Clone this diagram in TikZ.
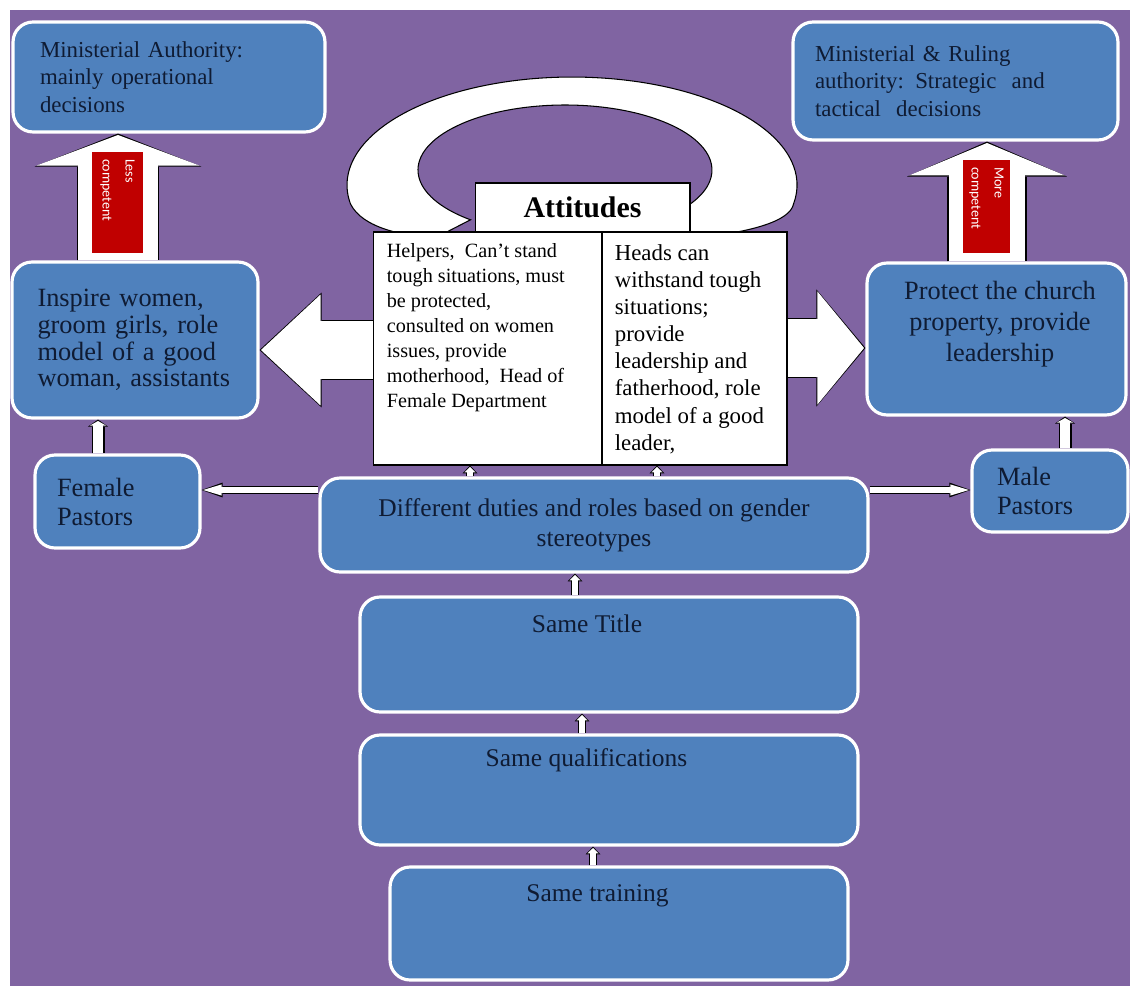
\documentclass[tikz,border=0pt]{standalone}
\usepackage{fontspec}
\setmainfont{Liberation Serif}
\newfontfamily\lblfont{Carlito}
\usetikzlibrary{positioning,arrows.meta,calc}

\definecolor{bgpurple}{HTML}{8064A2}
\definecolor{boxblue}{HTML}{4F81BD}
\definecolor{navytext}{HTML}{0F1B33}
\definecolor{lblred}{HTML}{C00000}

\tikzset{
  bbox/.style={draw=white, line width=1.8pt, fill=boxblue, rounded corners=0.4cm, text=navytext, inner sep=0pt},
  wbox/.style={draw=black, line width=0.6pt, fill=white, inner sep=0pt},
  boxtext/.style={text=navytext, inner sep=0pt, font=\fontsize{14.5}{17}\selectfont},
  coltext/.style={inner sep=0pt, align=left, anchor=north west},
  redlbl/.style={fill=lblred, text=white, rotate=-90, inner xsep=4pt, inner ysep=0pt, align=left, font=\lblfont\fontsize{8}{13}\selectfont},
  blockarr/.style n args={6}{draw=white, line width=#1, shorten >=0.8pt,
    -{Triangle[width=#2, length=#3, line width=0.8pt]},
    preaction={draw=black, line width=#4, shorten >=0pt,
      -{Triangle[width=#5, length=#6, line width=0pt]}}},
  stubarr/.style={blockarr={6.2pt}{9pt}{2.6pt}{7.4pt}{11.4pt}{4pt}},
  sidearr/.style={blockarr={3.4pt}{6.1pt}{10.6pt}{4.6pt}{8.5pt}{12pt}},
  tinyarr/.style={blockarr={3.4pt}{6.1pt}{3.1pt}{4.6pt}{8.5pt}{4.5pt}},
}

\begin{document}
\begin{tikzpicture}[x=0.02cm, y=-0.02cm]
  \useasboundingbox[fill=white] (0,0) rectangle (1135,986);
  \fill[bgpurple] (10,10) rectangle (1130,986);

  % circular arrow behind the attitudes box
  \draw[fill=white, line width=0.6pt] (437,237) -- (470.5,219.8)
    arc[start angle=130, end angle=410, x radius=147, y radius=65]
    -- (703,237) .. controls (748,232) and (790,222) .. (793.6,203.8)
    arc[start angle=10, end angle=-190, x radius=225, y radius=108]
    .. controls (362,228) and (405,237) .. (437,237) -- cycle;

  % blue boxes
  \node[bbox, minimum width=6.24cm, minimum height=2.2cm, text width=5.16cm, align=left, font=\fontsize{13}{15.6}\selectfont] (minis) at (169,77) {Ministerial Authority:\\ mainly operational\\ decisions};
  \node[bbox, minimum width=6.5cm, minimum height=2.36cm, text width=5.62cm, align=left, font=\fontsize{13}{15.6}\selectfont] (rule) at (955.5,81) {Ministerial \& Ruling\\ authority: Strategic\ \ and\\ tactical\ \ decisions};
  \node[bbox, minimum width=4.92cm, minimum height=3.12cm, text width=3.9cm, align=left, font=\fontsize{15}{15.2}\selectfont] (inspire) at (135,340) {Inspire women,\\ groom girls, role\\ model of a good\\ woman, assistants};
  \node[bbox, minimum width=5.18cm, minimum height=3.04cm] (protect) at (996.5,339) {};
  \node[boxtext, align=center, font=\fontsize{15}{17.5}\selectfont] (protecttxt) at ([xshift=0.07cm, yshift=0.3cm]protect.center) {Protect the church\\ property, provide\\ leadership};
  \node[bbox, minimum width=3.3cm, minimum height=1.86cm, text width=2.42cm, align=left, font=\fontsize{15}{16.5}\selectfont] (female) at (117.5,501.5) {Female\\ Pastors};
  \node[bbox, minimum width=3.12cm, minimum height=1.64cm, text width=2.12cm, align=left, font=\fontsize{15}{16.5}\selectfont] (male) at (1050,491) {Male\\ Pastors};
  \node[bbox, minimum width=10.96cm, minimum height=1.88cm, align=center, font=\fontsize{14.5}{17}\selectfont] (duties) at (594,525) {Different duties and roles based on gender\\ stereotypes};
  \node[bbox, minimum width=9.96cm, minimum height=2.3cm] (title) at (609,654.5) {};
  \node[boxtext] (titletxt) at ([xshift=-0.44cm, yshift=-0.56cm]title.north) {Same Title};
  \node[bbox, minimum width=9.96cm, minimum height=2.2cm] (qual) at (609,790) {};
  \node[boxtext] (qualtxt) at ([xshift=-0.45cm, yshift=-0.54cm]qual.north) {Same qualifications};
  \node[bbox, minimum width=9.16cm, minimum height=2.26cm] (train) at (619,923.5) {};
  \node[boxtext] (traintxt) at ([xshift=-0.43cm, yshift=-0.6cm]train.north) {Same training};

  % attitudes
  \node[wbox, minimum width=4.58cm, minimum height=4.66cm] (lcol) at (487.5,348.5) {};
  \node[wbox, minimum width=3.7cm, minimum height=4.66cm] (rcol) at (694.5,348.5) {};
  \node[wbox, minimum width=4.3cm, minimum height=0.98cm, font=\bfseries\fontsize{17}{20}\selectfont] (att) at (582.5,207.5) {Attitudes};
  \node[coltext, font=\fontsize{11.5}{14.2}\selectfont] (lcoltxt) at ([shift={(14,12)}]lcol.north west) {Helpers,\ \ Can't stand\\ tough situations, must\\ be protected,\\ consulted on women\\ issues, provide\\ motherhood,\ \ Head of\\ Female Department};
  \node[coltext, font=\fontsize{13}{15.4}\selectfont] (rcoltxt) at ([shift={(13,13)}]rcol.north west) {Heads can\\ withstand tough\\ situations;\\ provide\\ leadership and\\ fatherhood, role\\ model of a good\\ leader,};

  % connectors
  \coordinate (lessx) at (118,0);
  \coordinate (morex) at (987,0);
  \coordinate (femx) at (98,0);
  \coordinate (malex) at (1065,0);
  \coordinate (sidey) at (0,490);
  \coordinate (leftarm) at (0,350);
  \coordinate (rightarm) at (0,348);
  \coordinate (lcolx) at (470,0);
  \coordinate (rcolx) at (657,0);
  \coordinate (titlex) at (575,0);
  \coordinate (qualx) at (582,0);
  \coordinate (trainx) at (593,0);

  \draw[blockarr={46pt}{92.6pt}{17.4pt}{47.2pt}{95pt}{18.8pt}] (inspire.north -| lessx) -- (minis.south -| lessx);
  \draw[blockarr={43.8pt}{88.6pt}{18.5pt}{45pt}{91pt}{19.9pt}] (protect.north -| morex) -- (rule.south -| morex);
  \draw[blockarr={32.9pt}{63pt}{33.9pt}{34.1pt}{65.4pt}{35.3pt}] (lcol.west |- leftarm) -- (inspire.east |- leftarm);
  \draw[blockarr={32.9pt}{64.2pt}{26.5pt}{34.1pt}{66.6pt}{27.9pt}] (rcol.east |- rightarm) -- (protect.west |- rightarm);

  \draw[stubarr] (female.north -| femx) -- (inspire.south -| femx);
  \draw[stubarr] (male.north -| malex) -- (protect.south -| malex);
  \draw[sidearr] (duties.west |- sidey) -- (female.east |- sidey);
  \draw[sidearr] (duties.east |- sidey) -- (male.west |- sidey);
  \draw[tinyarr] (duties.north -| lcolx) -- (lcol.south -| lcolx);
  \draw[tinyarr] (duties.north -| rcolx) -- (rcol.south -| rcolx);
  \draw[tinyarr] (title.north -| titlex) -- (duties.south -| titlex);
  \draw[tinyarr] (qual.north -| qualx) -- (title.south -| qualx);
  \draw[tinyarr] (train.north -| trainx) -- (qual.south -| trainx);

  % labels on the upward arrows
  \node[redlbl, minimum width=2.02cm, minimum height=1.02cm, text width=1.74cm] (lessbox) at (117.5,202.5) {Less\\competent};
  \node[redlbl, minimum width=1.86cm, minimum height=0.94cm, text width=1.58cm] (morebox) at (986.5,206.5) {More\\competent};
\end{tikzpicture}
\end{document}
